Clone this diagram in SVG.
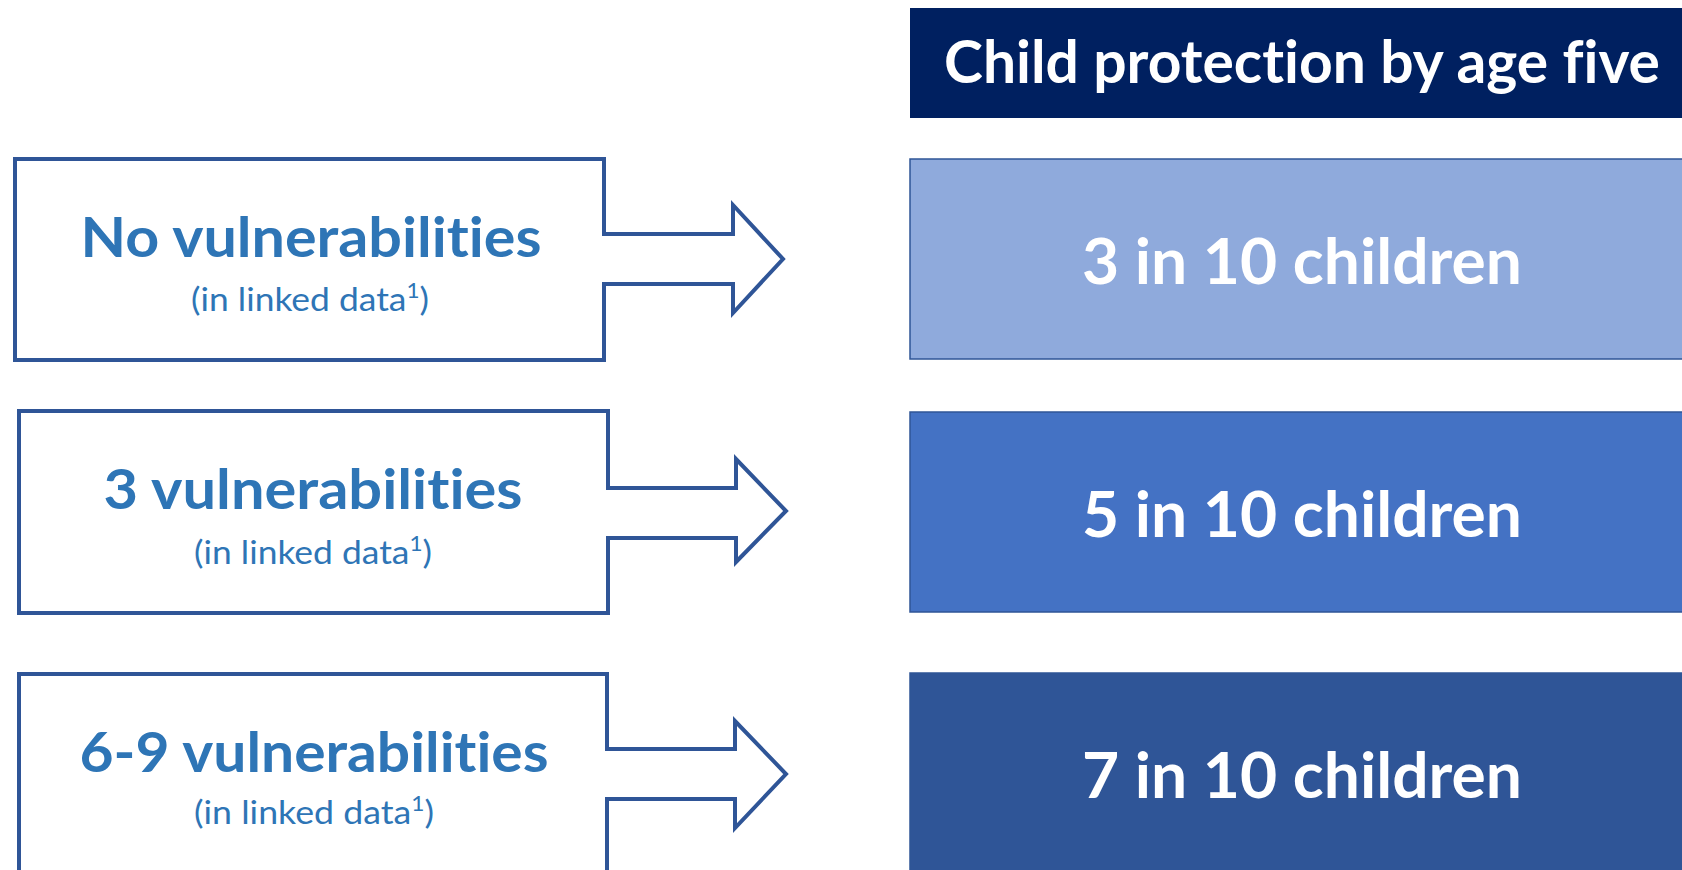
<svg xmlns="http://www.w3.org/2000/svg" width="1682" height="870" viewBox="0 0 1682 870">
<style>
text{font-variant-ligatures:none;font-feature-settings:"liga" 0,"clig" 0}
.src{fill:#ffffff;stroke:#2F5597;stroke-width:4;stroke-linejoin:miter}
.big{font-family:Lato,"Open Sans",sans-serif;font-weight:bold;fill:#2E75B6;text-anchor:middle}
.small{font-family:Lato,"Open Sans",sans-serif;font-weight:normal;fill:#2E75B6;font-size:33px}
.sup{font-size:21px}
.res{stroke:#2F5597;stroke-width:1.5}
.rtxt{font-family:Lato,"Open Sans",sans-serif;font-weight:bold;fill:#ffffff;text-anchor:middle}
</style>
<rect width="1682" height="870" fill="#ffffff"/>
<g id="header">
<rect x="910" y="8" width="780" height="110" fill="#002060"/>
<text class="rtxt" x="1302" y="83" font-size="60" textLength="716" lengthAdjust="spacingAndGlyphs">Child protection by age five</text>
</g>
<g id="src1">
<polygon class="src" points="15,159 604,159 604,234 733,234 733,205 783,259 733,313 733,284 604,284 604,360 15,360"/>
<text class="big" x="311" y="257" font-size="56" textLength="461" lengthAdjust="spacingAndGlyphs">No vulnerabilities</text>
<text class="small" x="191" y="311" textLength="238" lengthAdjust="spacingAndGlyphs">(in linked data<tspan class="sup" dy="-13">1</tspan><tspan dy="13">)</tspan></text>
</g>
<g id="src2">
<polygon class="src" points="19,411 608,411 608,488 736,488 736,459 786,511 736,562 736,538 608,538 608,613 19,613"/>
<text class="big" x="313" y="509" font-size="56" textLength="419" lengthAdjust="spacingAndGlyphs">3 vulnerabilities</text>
<text class="small" x="194" y="564" textLength="238" lengthAdjust="spacingAndGlyphs">(in linked data<tspan class="sup" dy="-13">1</tspan><tspan dy="13">)</tspan></text>
</g>
<g id="src3">
<polygon class="src" points="19,674 607,674 607,749 735,749 735,721 786,774 735,828 735,799 607,799 607,876 19,876"/>
<text class="big" x="314" y="772" font-size="56" textLength="469" lengthAdjust="spacingAndGlyphs">6-9 vulnerabilities</text>
<text class="small" x="194" y="824" textLength="240" lengthAdjust="spacingAndGlyphs">(in linked data<tspan class="sup" dy="-13">1</tspan><tspan dy="13">)</tspan></text>
</g>
<g id="res1">
<rect class="res" x="910" y="159" width="790" height="200" fill="#8FAADC"/>
<text class="rtxt" x="1302" y="284" font-size="64" textLength="440" lengthAdjust="spacingAndGlyphs">3 in 10 children</text>
</g>
<g id="res2">
<rect class="res" x="910" y="412" width="790" height="200" fill="#4472C4"/>
<text class="rtxt" x="1302" y="537" font-size="64" textLength="440" lengthAdjust="spacingAndGlyphs">5 in 10 children</text>
</g>
<g id="res3">
<rect class="res" x="910" y="673" width="790" height="210" fill="#2F5597"/>
<text class="rtxt" x="1302" y="798" font-size="64" textLength="440" lengthAdjust="spacingAndGlyphs">7 in 10 children</text>
</g>
<g id="connectors"></g>
</svg>
